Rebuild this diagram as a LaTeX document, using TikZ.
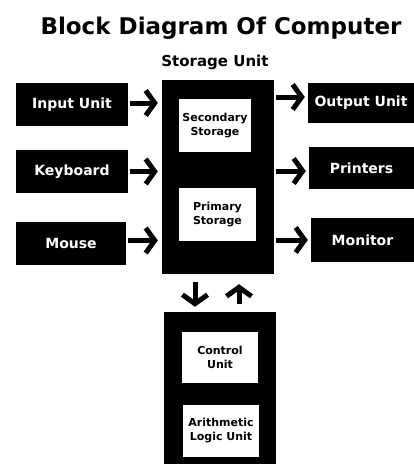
\documentclass[tikz,border=0pt]{standalone}
\usepackage{fontspec}
\setmainfont{DejaVu Sans}
\usepackage{tikz}
\usetikzlibrary{arrows.meta,positioning}
\usepackage{xcolor}
\definecolor{cmblack}{RGB}{0,0,0}
\definecolor{cmpaper}{RGB}{255,255,255}
\tikzstyle{arrow} = [line width=5pt,-{Straight Barb[length=9pt 0 0, width=25pt 0 0]},color=cmblack]
\tikzstyle{unit} = [rectangle, fill=cmblack, text=white, inner sep=0pt, font=\bfseries\fontsize{14}{16}\selectfont]
\tikzstyle{holder} = [rectangle, fill=cmblack, inner sep=0pt, minimum width=112pt]
\tikzstyle{store} = [rectangle, fill=cmpaper, text=black, inner sep=0pt, align=center, font=\bfseries\fontsize{11}{14}\selectfont]

\begin{document}
\begin{tikzpicture}[x=1pt, y=-1pt]
\useasboundingbox[fill=white] (0,0) rectangle (414,464);

% Title
\node (title) at (221,28) {\bfseries\fontsize{23}{27}\selectfont Block Diagram Of Computer};

% Storage unit
\node (storage) [holder, minimum height=194pt] at (218,177) {};
\node (storagelabel) [above=7pt of storage.north, xshift=-3pt] {\bfseries\fontsize{15}{18}\selectfont Storage Unit};
\node (secondary) [store, minimum width=72pt, minimum height=53pt] at (215,125.5) {Secondary\\Storage};
\node (primary) [store, minimum width=77pt, minimum height=53pt] at (217.5,214.5) {Primary\\Storage};

% Input side
\node (input) [unit, minimum width=112pt, minimum height=43pt] at (72,104.5) {Input Unit};
\node (keyboard) [unit, minimum width=112pt, minimum height=43pt] at (72,171.5) {Keyboard};
\node (mouse) [unit, minimum width=110pt, minimum height=43pt] at (71,243.5) {Mouse};

% Output side
\node (output) [unit, minimum width=106pt, minimum height=40pt] at (361,103) {Output Unit};
\node (printers) [unit, minimum width=105pt, minimum height=42pt] at (361.5,168) {Printers};
\node (monitor) [unit, minimum width=103pt, minimum height=44pt] at (362.5,240) {Monitor};

% CPU
\node (cpu) [holder, minimum height=152pt] at (220,388) {};
\node (control) [store, minimum width=76pt, minimum height=51pt] at (220,357.5) {Control\\Unit};
\node (alu) [store, minimum width=76pt, minimum height=52pt] at (221,431) {Arithmetic\\Logic Unit};

% Arrows
\draw[arrow, shorten <=2pt, shorten >=4pt] ([yshift=1.5pt]input.east) -- ([yshift=1.5pt]storage.west |- input.east);
\draw[arrow, shorten <=2pt, shorten >=4pt] (keyboard.east) -- (storage.west |- keyboard.east);
\draw[arrow, shorten <=2pt, shorten >=4pt] ([yshift=3pt]mouse.east) -- ([yshift=3pt]storage.west |- mouse.east);
\draw[arrow, shorten <=2pt, shorten >=3pt] ([yshift=6pt]storage.east |- output.west) -- ([yshift=6pt]output.west);
\draw[arrow, shorten <=2pt, shorten >=3pt] ([yshift=-3pt]storage.east |- printers.west) -- ([yshift=-3pt]printers.west);
\draw[arrow, shorten <=2pt, shorten >=3pt] (storage.east |- monitor.west) -- (monitor.west);
\draw[arrow, shorten <=8pt, shorten >=5pt] ([xshift=-23pt]storage.south) -- ([xshift=-25pt]cpu.north);
\draw[arrow, shorten <=8pt, shorten >=10pt] ([xshift=19pt]cpu.north) -- ([xshift=21pt]storage.south);

\end{tikzpicture}
\end{document}
